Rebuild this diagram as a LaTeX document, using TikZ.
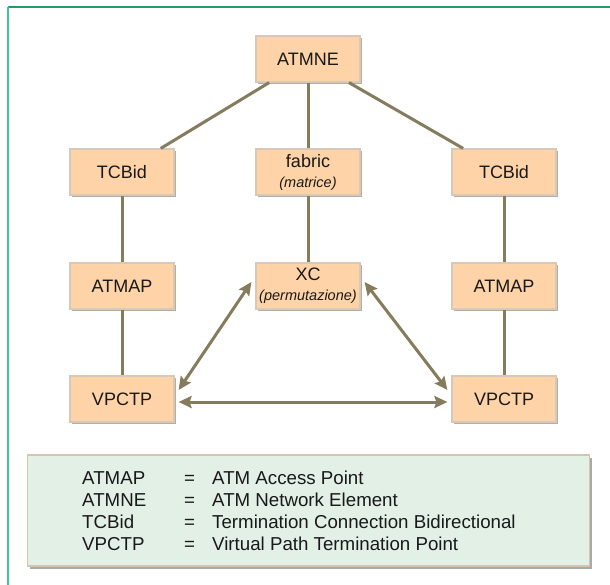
\documentclass[tikz,border=0pt]{standalone}
\usepackage{fontspec}
\setmainfont{Liberation Sans}
\usetikzlibrary{arrows.meta,shadows}

\definecolor{boxfill}{HTML}{FDD3A7}
\definecolor{boxedge}{HTML}{D6C9B8}
\definecolor{boxshade}{HTML}{B5ADA2}
\definecolor{linkcol}{HTML}{857B5D}
\definecolor{legfill}{HTML}{E2F0E5}
\definecolor{legedge}{HTML}{D3C6AE}
\definecolor{legshade}{HTML}{A9A9A9}
\definecolor{framedark}{HTML}{1F9E6C}
\definecolor{framelight}{HTML}{45C493}

\tikzset{
  unit/.style={draw=boxedge, line width=1.2pt, fill=boxfill, minimum width=104pt,
    minimum height=46pt, inner sep=2pt, align=center, text=black!90,
    font=\fontsize{18}{20}\selectfont,
    drop shadow={shadow xshift=2pt, shadow yshift=-2pt, fill=boxshade, opacity=1}},
  link/.style={draw=linkcol, line width=3pt},
  arr/.style={link, {Stealth[length=13pt,width=12pt,inset=2pt]}-{Stealth[length=13pt,width=12pt,inset=2pt]}},
  legtext/.style={anchor=base west, inner sep=0pt, text=black!90, font=\fontsize{18.7}{20}\selectfont},
}

\begin{document}
\begin{tikzpicture}[x=1pt,y=-1pt]
\useasboundingbox (0,0) rectangle (610,585);
% frame
\draw[framedark, line width=1.8pt] (8,7) -- (610,7);
\draw[framelight, line width=1.8pt] (8,7) -- (8,585);
% boxes
\node[unit] (atmne) at (308,59) {ATMNE};
\node[unit] (tcbl) at (122,172) {TCBid};
\node[unit] (fabric) at (308,172) {fabric\\{\itshape\fontsize{14.5}{16}\selectfont (matrice)}};
\node[unit] (tcbr) at (504,172) {TCBid};
\node[unit] (apl) at (122,286) {ATMAP};
\node[unit] (xc) at (308,286) {XC\\{\itshape\fontsize{14.5}{16}\selectfont (permutazione)}};
\node[unit] (apr) at (504,286) {ATMAP};
\node[unit] (vpl) at (122,399) {VPCTP};
\node[unit] (vpr) at (504,399) {VPCTP};
% tree links
\draw[link] (atmne) -- (tcbl);
\draw[link] (atmne) -- (fabric);
\draw[link] (atmne) -- (tcbr);
\draw[link] (tcbl) -- (apl);
\draw[link] (apl) -- (vpl);
\draw[link] (fabric) -- (xc);
\draw[link] (tcbr) -- (apr);
\draw[link] (apr) -- (vpr);
% cross connections
\draw[arr] ([shift={(4pt,9pt)}]vpl.east) -- ([shift={(-4pt,4pt)}]xc.west);
\draw[arr] ([shift={(4pt,4pt)}]xc.east) -- ([shift={(-4pt,9pt)}]vpr.west);
\draw[arr] ([shift={(4pt,-3pt)}]vpl.east) -- ([shift={(-4pt,-3pt)}]vpr.west);
% legend
\node[draw=legedge, line width=1.5pt, fill=legfill, minimum width=562pt, minimum height=111pt,
  drop shadow={shadow xshift=2.5pt, shadow yshift=-2.5pt, fill=legshade, opacity=1}]
  (legend) at (308.5,510.5) {};
\foreach \ab/\full [count=\i] in {ATMAP/ATM Access Point, ATMNE/ATM Network Element,
    TCBid/Termination Connection Bidirectional, VPCTP/Virtual Path Termination Point} {
  \node[legtext] (ab\i) at (82,461.7+22.3*\i) {\ab};
  \node[legtext] (eq\i) at (184,461.7+22.3*\i) {=};
  \node[legtext] (def\i) at (212,461.7+22.3*\i) {\full};
}
\end{tikzpicture}
\end{document}
